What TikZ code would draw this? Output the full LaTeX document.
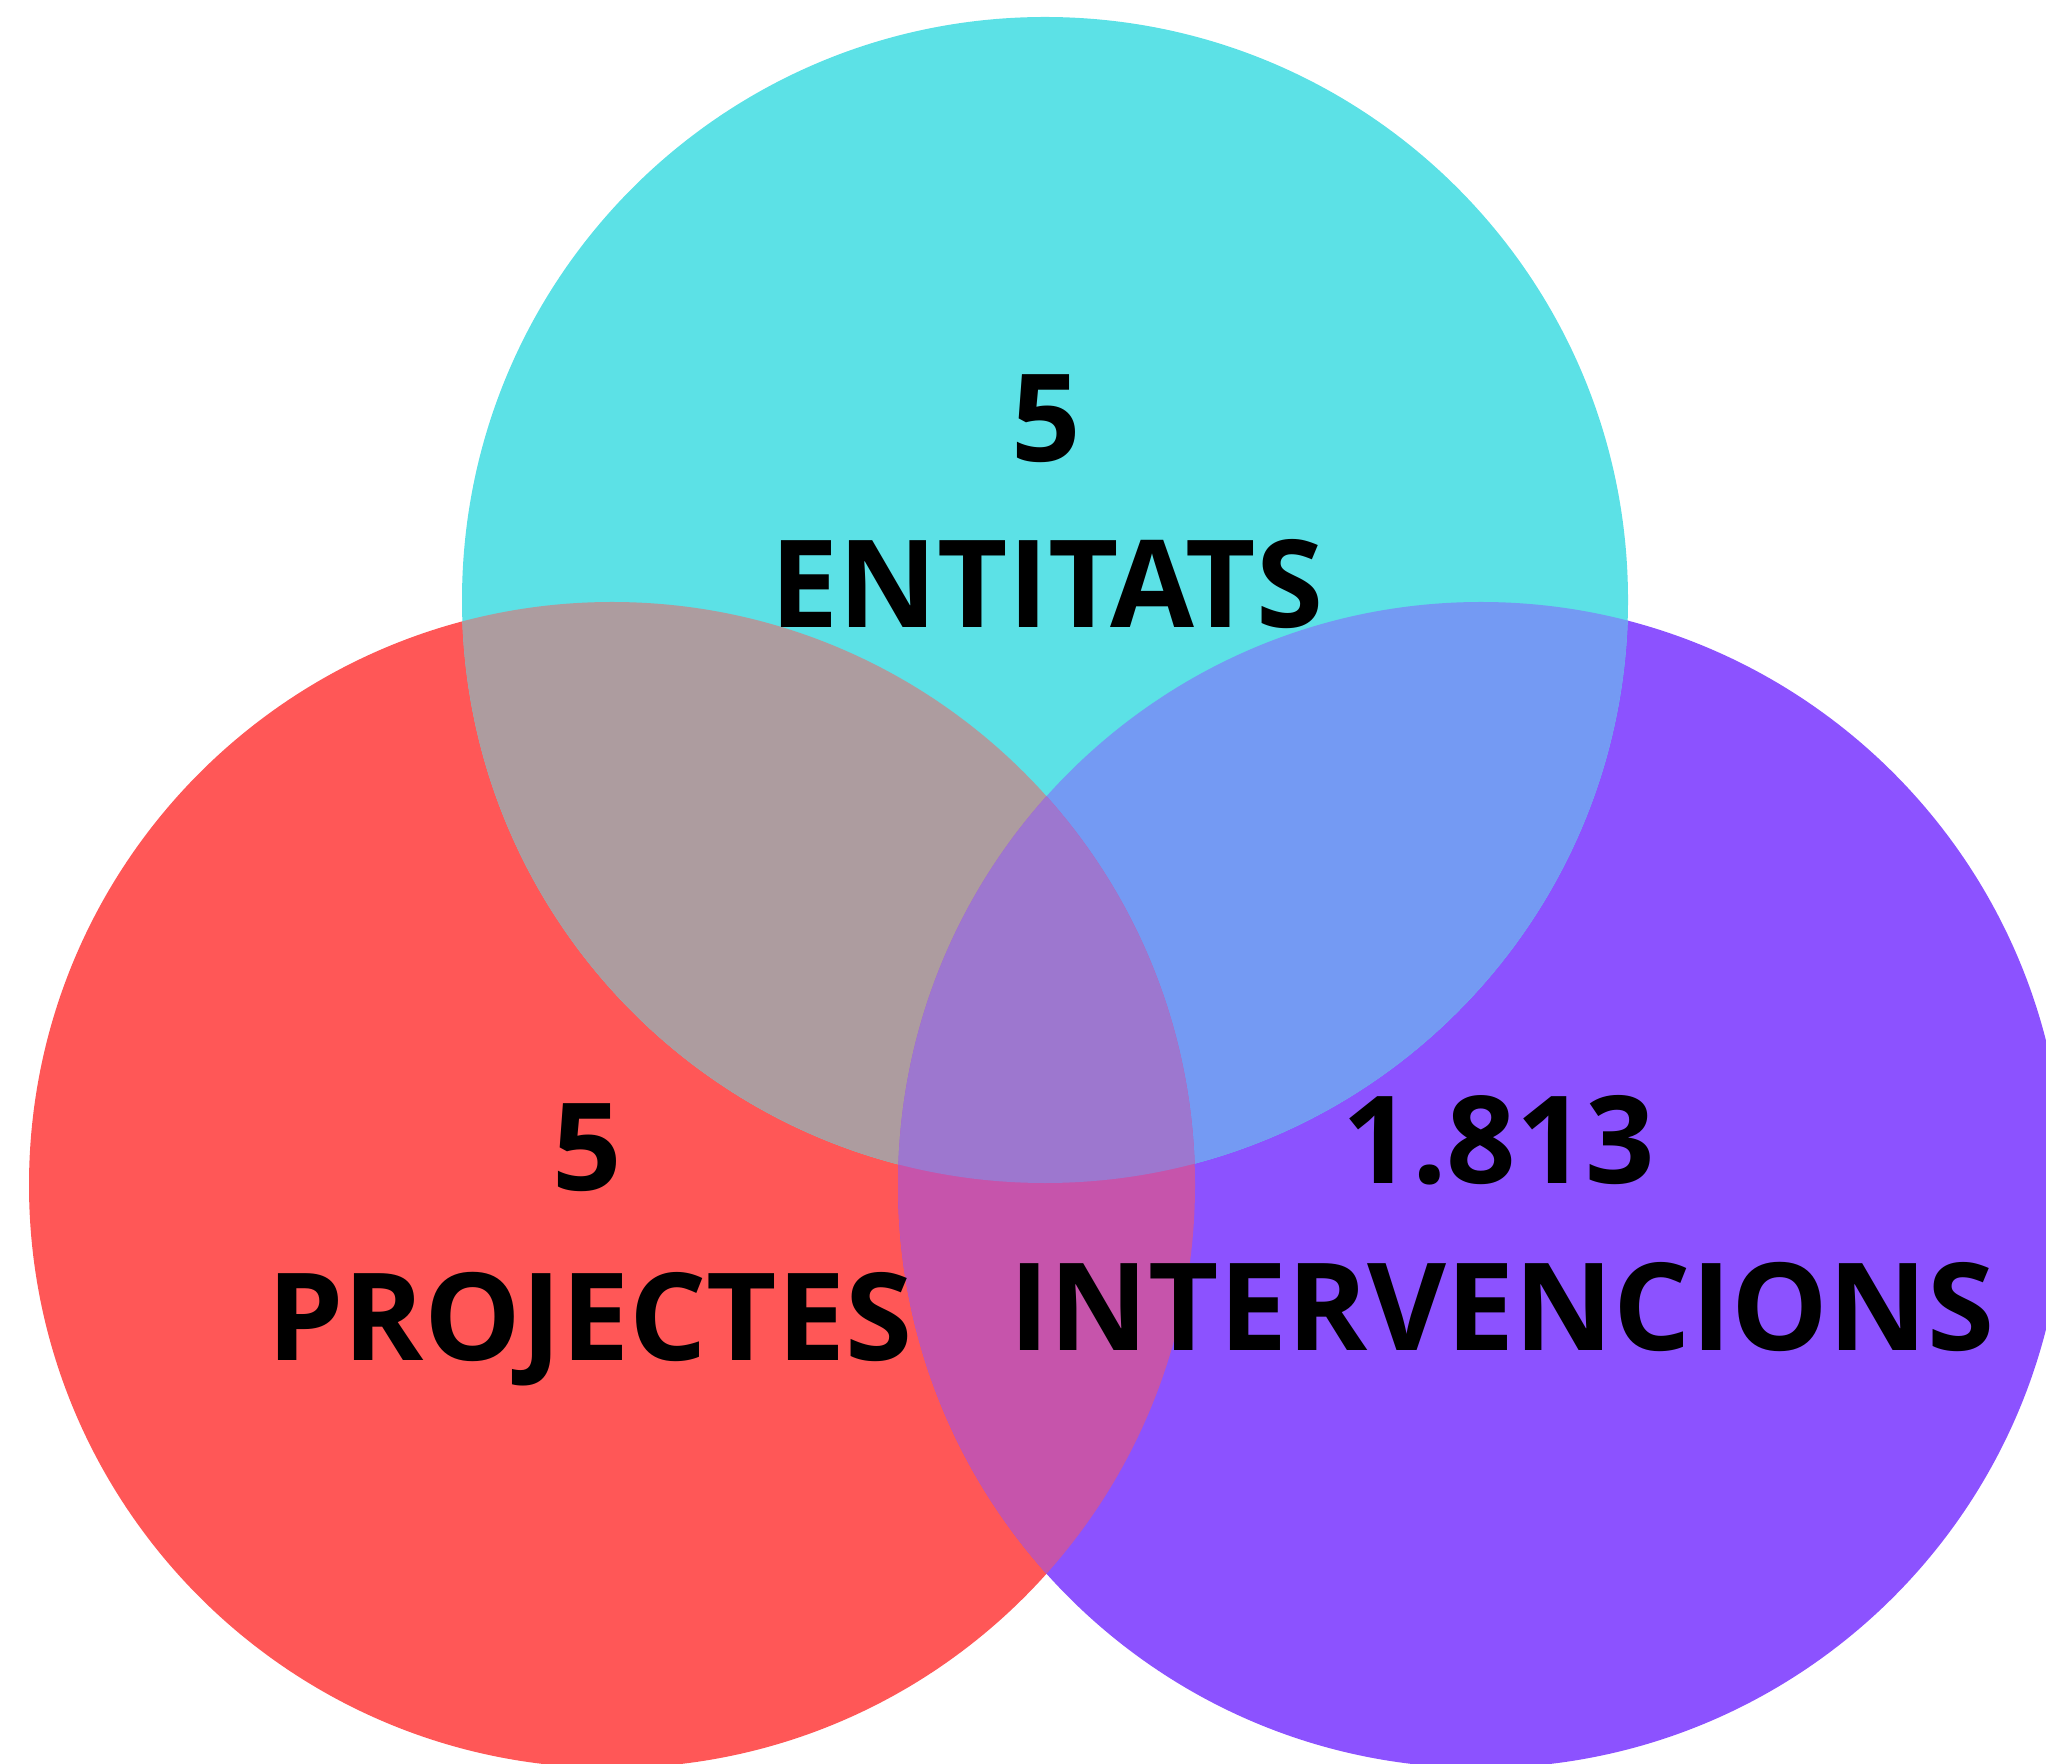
\documentclass[tikz,border=0pt]{standalone}
\usepackage{fontspec}
\setmainfont{Open Sans}
\usetikzlibrary{positioning}
\definecolor{redset}{HTML}{FF5757}
\definecolor{cyanset}{HTML}{5CE1E6}
\definecolor{purpleset}{HTML}{8C52FF}
\colorlet{rcmix}{redset!50!cyanset}
\colorlet{cpmix}{cyanset!50!purpleset}
\colorlet{rpmix}{redset!50!purpleset}
\colorlet{allmix}{purpleset!50!rcmix}
\tikzset{
  count/.style={font=\fontsize{34.6}{40}\selectfont\bfseries, anchor=base, inner sep=0pt},
  setname/.style={font=\fontsize{34.6}{40}\selectfont\bfseries, anchor=base, inner sep=0pt}
}

\begin{document}
\begin{tikzpicture}[x=0.01cm, y=0.01cm]
  \useasboundingbox (0,0) rectangle (2046,1763);
  \clip (0,0) rectangle (2046,1763);
  \def\rad{583}

  \fill[redset] (612,578) circle (\rad);
  \fill[purpleset] (1481,578) circle (\rad);
  \fill[cyanset] (1045,1163) circle (\rad);

  % pairwise overlaps
  \begin{scope}
    \clip (612,578) circle (\rad);
    \fill[rcmix] (1045,1163) circle (\rad);
  \end{scope}
  \begin{scope}
    \clip (1481,578) circle (\rad);
    \fill[cpmix] (1045,1163) circle (\rad);
  \end{scope}
  \begin{scope}
    \clip (612,578) circle (\rad);
    \fill[rpmix] (1481,578) circle (\rad);
  \end{scope}
  % centre
  \begin{scope}
    \clip (612,578) circle (\rad);
    \clip (1481,578) circle (\rad);
    \fill[allmix] (1045,1163) circle (\rad);
  \end{scope}

  \node[count] (entnum) at (1046,1301) {5};
  \node[setname] (ent) at (1047,1135) {ENTITATS};
  \node[count] (projnum) at (587,573) {5};
  \node[setname] (proj) at (590,403) {PROJECTES};
  \node[count] (intnum) at (1499,580) {1.813};
  \node[setname] (int) at (1502,413) {INTERVENCIONS};
\end{tikzpicture}
\end{document}
